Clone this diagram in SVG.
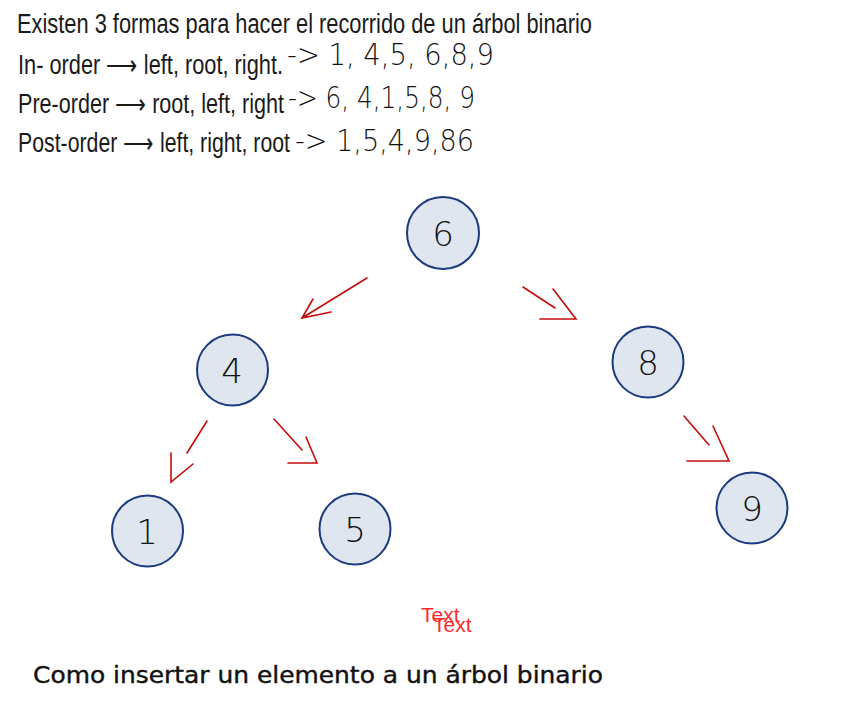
<svg xmlns="http://www.w3.org/2000/svg" width="856" height="712" viewBox="0 0 856 712">
<defs>
<style>
.typed{font-family:"Liberation Sans",Arial,sans-serif;font-size:27px;fill:#1a1a1a}
.hand{font-family:"DejaVu Sans",sans-serif;font-size:31px;fill:#111;font-weight:200}
.node circle{fill:#dfe6f0;stroke:#1c3a80;stroke-width:2}
.node text{font-family:"DejaVu Sans",sans-serif;font-size:34px;fill:#111;font-weight:200;text-anchor:middle;dominant-baseline:central}
.arrow{fill:none;stroke:#c40c0c;stroke-width:1.6;stroke-linecap:round;stroke-linejoin:miter}
.red{font-family:"Liberation Sans",Arial,sans-serif;font-size:21px;fill:#ff2b2b}
.title{font-family:"DejaVu Sans",sans-serif;font-size:23px;fill:#111;stroke:#111;stroke-width:0.4}
</style>
</defs>
<rect width="856" height="712" fill="#ffffff"/>
<g id="header">
<text class="typed" x="17" y="33" textLength="575" lengthAdjust="spacingAndGlyphs">Existen 3 formas para hacer el recorrido de un árbol binario</text>
<text class="typed" x="18" y="74" textLength="265" lengthAdjust="spacingAndGlyphs">In- order ⟶ left, root, right.</text>
<text class="typed" x="18" y="113" textLength="266" lengthAdjust="spacingAndGlyphs">Pre-order ⟶ root, left, right</text>
<text class="typed" x="18" y="152" textLength="272" lengthAdjust="spacingAndGlyphs">Post-order ⟶ left, right, root</text>
<text class="hand" x="287" y="65" textLength="207" lengthAdjust="spacingAndGlyphs">-&gt; 1, 4,5, 6,8,9</text>
<text class="hand" x="288" y="108" textLength="187" lengthAdjust="spacingAndGlyphs">-&gt; 6, 4,1,5,8, 9</text>
<text class="hand" x="295" y="151" textLength="179" lengthAdjust="spacingAndGlyphs">-&gt; 1,5,4,9,86</text>
</g>
<g id="connectors">
<path class="arrow" d="M367,278 L302,318 M313,299 L302,318 L331,312"/>
<path class="arrow" d="M523,287 L555,308 M553,289 L576,319 L540,319"/>
<path class="arrow" d="M207,421 L187,453 M171,453 L171,482 L193,464"/>
<path class="arrow" d="M274,419 L302,450 M306,437 L317,463 L288,463"/>
<path class="arrow" d="M684,416 L709,445 M713,426 L729,461 L687,461"/>
</g>
<g id="node-6" class="node"><circle cx="443" cy="233" r="36"/><text x="443" y="234">6</text></g>
<g id="node-4" class="node"><circle cx="232.5" cy="370" r="35.5"/><text x="232" y="371">4</text></g>
<g id="node-8" class="node"><circle cx="648" cy="362" r="35.5"/><text x="648" y="363">8</text></g>
<g id="node-1" class="node"><circle cx="147.5" cy="531" r="35.5"/><text x="147" y="532">1</text></g>
<g id="node-5" class="node"><circle cx="355" cy="529" r="35.5"/><text x="355" y="530">5</text></g>
<g id="node-9" class="node"><circle cx="752" cy="508" r="35.5"/><text x="752" y="509">9</text></g>
<g id="labels">
<text class="red" x="421" y="622">Text</text>
<text class="red" x="433" y="632">Text</text>
<text class="title" x="33" y="683" textLength="570" lengthAdjust="spacingAndGlyphs">Como insertar un elemento a un árbol binario</text>
</g>
</svg>
